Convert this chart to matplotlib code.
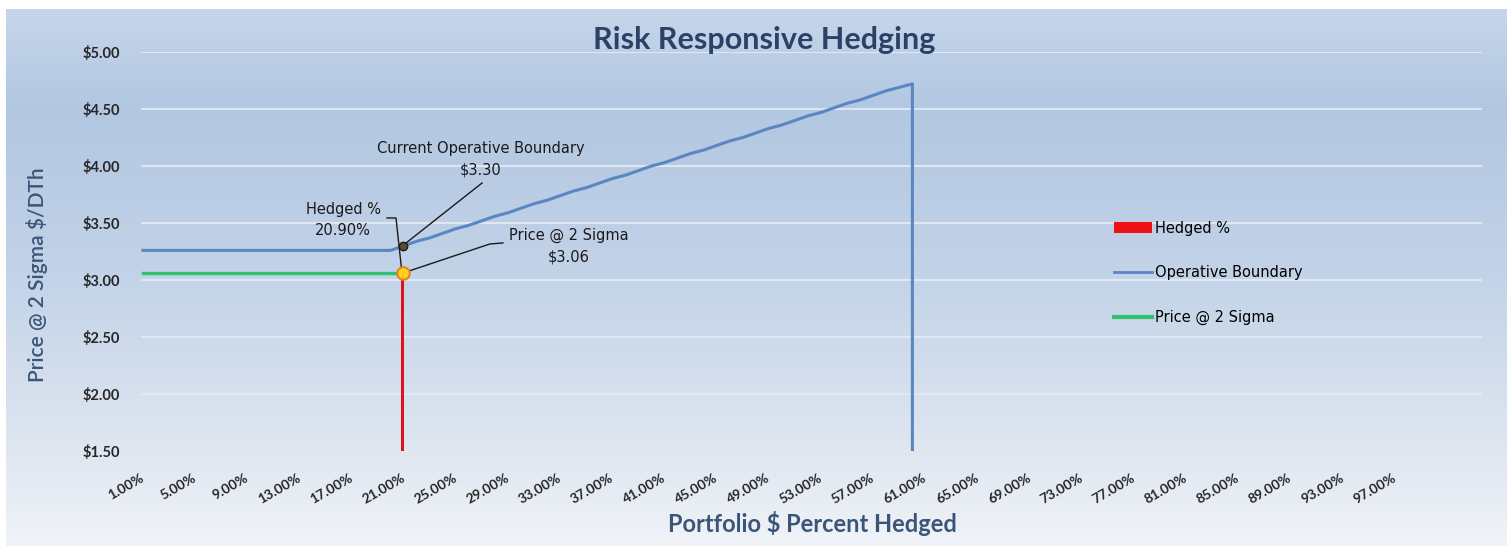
import numpy as np
import matplotlib.pyplot as plt
from matplotlib.colors import LinearSegmentedColormap
from matplotlib.patches import Patch
from matplotlib.lines import Line2D


# percent hedged (category axis) and the operative boundary price
boundary_x = [1, 2, 3, 4, 5, 6, 7, 8, 9, 10, 11, 12, 13, 14, 15, 16, 17, 18, 19, 20,
              21, 22, 23, 24, 25, 26, 27, 28, 29, 30, 31, 32, 33, 34, 35, 36, 37, 38, 39, 40,
              41, 42, 43, 44, 45, 46, 47, 48, 49, 50, 51, 52, 53, 54, 55, 56, 57, 58, 59, 60, 60]
boundary_y = [3.26, 3.26, 3.26, 3.26, 3.26, 3.26, 3.26, 3.26, 3.26, 3.26,
              3.26, 3.26, 3.26, 3.26, 3.26, 3.26, 3.26, 3.26, 3.26, 3.26,
              3.30, 3.34, 3.37, 3.41, 3.45, 3.48, 3.52, 3.56, 3.59, 3.63,
              3.67, 3.70, 3.74, 3.78, 3.81, 3.85, 3.89, 3.92, 3.96, 4.00,
              4.03, 4.07, 4.11, 4.14, 4.18, 4.22, 4.25, 4.29, 4.33, 4.36,
              4.40, 4.44, 4.47, 4.51, 4.55, 4.58, 4.62, 4.66, 4.69, 4.72, 0.0]

sigma_x = [1, 20.9]
sigma_y = [3.06, 3.06]

hedged_pct = 20.9
price_2sigma = 3.06
current_boundary = 3.30

xtick_vals = [1, 5, 9, 13, 17, 21, 25, 29, 33, 37, 41, 45, 49, 53, 57, 61, 65, 69, 73, 77, 81, 85, 89, 93, 97]
ytick_vals = [1.5, 2.0, 2.5, 3.0, 3.5, 4.0, 4.5, 5.0]

W, H = 1507, 546
fig = plt.figure(figsize=(W / 100, H / 100), dpi=100)

# gradient background
bg = fig.add_axes([6 / W, 0, 1 - 6 / W, 1 - 9 / H], zorder=-5)
cmap = LinearSegmentedColormap.from_list('bg', [(0.0, '#C6D6EA'), (0.18, '#B2C7E1'),
                                                (0.5, '#C3D3E8'), (0.8, '#DDE5F0'), (1.0, '#F0F3F8')])
bg.imshow(np.linspace(0, 1, 256).reshape(-1, 1), aspect='auto', cmap=cmap, extent=[0, 1, 0, 1])
bg.axis('off')

ax = fig.add_axes([141 / W, 1 - 451 / H, (1482 - 141) / W, (451 - 52) / H])
ax.patch.set_alpha(0)
ax.set_xlim(0.847, 103.68)
ax.set_ylim(1.5, 5.0)

ax.set_yticks(ytick_vals)
ax.set_yticklabels(['$%.2f' % v for v in ytick_vals], fontfamily='Lato', fontweight='bold',
                   fontsize=10.5, color='#262626')
ax.set_xticks(xtick_vals)
ax.set_xticklabels(['%.2f%%' % v for v in xtick_vals], fontfamily='Lato', fontweight='bold',
                   fontsize=10, color='#262626', rotation=30, ha='right', va='center',
                   rotation_mode='anchor')
ax.tick_params(axis='y', length=0, pad=15)
ax.tick_params(axis='x', length=0, pad=19)
for s in ax.spines.values():
    s.set_visible(False)
ax.grid(axis='y', color='#E6ECF4', lw=1.2)
ax.set_axisbelow(True)

# series
ax.bar([hedged_pct], [price_2sigma], width=0.22, color='#DE1219', zorder=3)
ax.plot(boundary_x, boundary_y, color='#5A86C2', lw=2.2, zorder=3)
ax.plot(sigma_x, sigma_y, color='#2FC070', lw=2.4, zorder=3)

# leader lines and labels
ax.plot([19.71, 20.40, 20.86], [3.544, 3.544, price_2sigma], color='#1a1a1a', lw=1, zorder=4)
ax.plot([27.0, hedged_pct], [3.851, current_boundary], color='#1a1a1a', lw=1, zorder=4)
ax.plot([28.6, 27.6, hedged_pct], [3.325, 3.316, price_2sigma], color='#1a1a1a', lw=1, zorder=4)

ax.plot([hedged_pct], [current_boundary], marker='o', ms=6, mfc='#5b4a36', mec='#1a1a1a', zorder=5)
ax.plot([hedged_pct], [price_2sigma], marker='o', ms=9, mfc='#FFD21F', mec='#E8821E', mew=1.5, zorder=5)

afont = dict(fontfamily='DejaVu Sans', fontsize=10.5, color='#1a1a1a', ha='center', va='center',
             linespacing=1.5)
ax.text(26.92, 4.061, 'Current Operative Boundary\n$%.2f' % current_boundary, **afont)
ax.text(16.34, 3.526, 'Hedged %%\n%.2f%%' % hedged_pct, **afont)
ax.text(33.67, 3.298, 'Price @ 2 Sigma\n$%.2f' % price_2sigma, **afont)

# legend
handles = [Patch(facecolor='#EE1111'),
           Line2D([], [], color='#5A86C2', lw=2),
           Line2D([], [], color='#2FC070', lw=3)]
fig.legend(handles, ['Hedged %', 'Operative Boundary', 'Price @ 2 Sigma'],
           loc='center left', bbox_to_anchor=(1107 / W, 1 - 273 / H), frameon=False,
           borderpad=0, handlelength=2.6, handletextpad=0.2, labelspacing=2.05,
           prop={'family': 'DejaVu Sans', 'size': 10.5})

fig.text(764 / W, 1 - 40 / H, 'Risk Responsive Hedging', ha='center', va='center',
         fontfamily='Lato', fontweight='bold', fontsize=22, color='#2B4166')
fig.text(812 / W, 1 - 524 / H, 'Portfolio $ Percent Hedged', ha='center', va='center',
         fontfamily='Lato', fontweight='bold', fontsize=17, color='#3B5578')
fig.text(37 / W, 1 - 275 / H, 'Price @ 2 Sigma $/DTh', ha='center', va='center', rotation=90,
         fontfamily='Lato', fontweight='semibold', fontsize=15, color='#3B5578')

plt.savefig('out.png', dpi=100)
